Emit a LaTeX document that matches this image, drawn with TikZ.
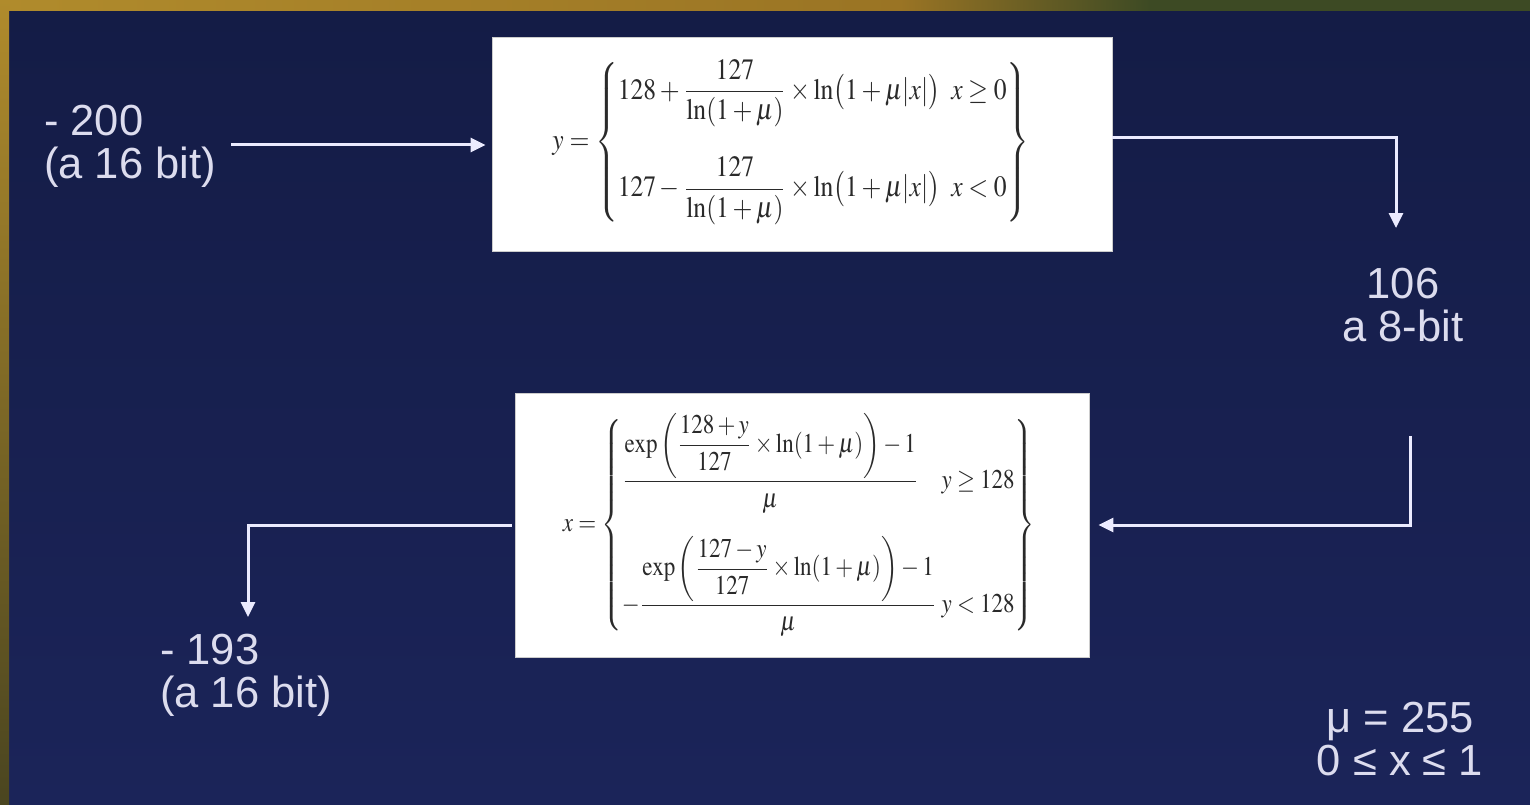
\documentclass[tikz,border=0pt]{standalone}
\usepackage{amsmath}
\usepackage{mathptmx}
\usepackage{graphicx}
\usepackage[no-math]{fontspec}
\newfontfamily\arialf{Liberation Sans}
\usetikzlibrary{arrows.meta}
\definecolor{navytop}{HTML}{141C46}
\definecolor{navybot}{HTML}{1B2459}
\definecolor{goldA}{HTML}{B08B2C}
\definecolor{goldB}{HTML}{9A7424}
\definecolor{greenA}{HTML}{3D4A24}
\definecolor{oliveA}{HTML}{4A4520}
\definecolor{txt}{HTML}{DCDCEE}
\definecolor{formula}{HTML}{2A2A2A}
\tikzset{
  lbl/.style={text=txt, font=\arialf\fontsize{43.5}{43}\selectfont, inner sep=0pt},
  whitebox/.style={fill=white, draw=gray!40, line width=0.8pt, inner sep=0pt},
  arr/.style={draw=white!92!blue, line width=3pt, -{Triangle[length=15pt,width=14pt]}}
}
\begin{document}
\begin{tikzpicture}[x=1pt,y=-1pt]
\useasboundingbox (0,0) rectangle (1530,805);
% background
\shade[top color=navytop, bottom color=navybot] (9,11) rectangle (1530,805);
\shade[left color=goldA, right color=goldB] (0,0) rectangle (900,11);
\shade[left color=goldB, right color=greenA] (900,0) rectangle (1150,11);
\fill[greenA] (1150,0) rectangle (1530,11);
\shade[top color=goldA, bottom color=oliveA] (0,0) rectangle (9,805);

% boxes
\node[whitebox, minimum width=620pt, minimum height=214pt] (box1) at (802,144) {};
\node[inner sep=0pt, text=formula] (f1) at (791,142) {\resizebox*{477pt}{165pt}{$
y=\left\{\begin{array}{@{}l@{\;\;}l@{}}
128+\dfrac{127}{\ln(1+\mu)}\times\ln\bigl(1+\mu|x|\bigr) & x\ge 0\\[16pt]
127-\dfrac{127}{\ln(1+\mu)}\times\ln\bigl(1+\mu|x|\bigr) & x<0
\end{array}\right\}$}};

\node[whitebox, minimum width=574pt, minimum height=264pt] (box2) at (802,525) {};
\node[inner sep=0pt, text=formula] (f2) at (799,525) {\resizebox*{472pt}{224pt}{$
x=\left\{\begin{array}{@{}l@{\;}l@{}}
\dfrac{\exp\left(\dfrac{128+y}{127}\times\ln(1+\mu)\right)-1}{\mu} & y\ge 128\\[14pt]
-\dfrac{\exp\left(\dfrac{127-y}{127}\times\ln(1+\mu)\right)-1}{\mu} & y<128
\end{array}\right\}$}};

% labels
\node[lbl, align=left, anchor=north west] (in1) at (44,105) {- 200\\(a 16 bit)};
\node[lbl, align=center, anchor=north] (out8) at (1403,268) {106\\a 8-bit};
\node[lbl, align=left, anchor=north west] (out16) at (160,634) {- 193\\(a 16 bit)};
\node[lbl, align=center, anchor=north] (mu) at (1400,702) {\char"03BC{} = 255\\0 \char"2264{} x \char"2264{} 1};

% connectors
\coordinate (t1) at (1396,228);
\coordinate (s3) at (1410,436);
\coordinate (t4) at (248,617);
\draw[arr] ([xshift=15pt]in1.east |- 0,145) -- ([xshift=-6pt]box1.west |- 0,145);
\draw[arr] ([yshift=6pt]box1.east) -| (t1);
\draw[arr] (s3) |- ([xshift=9pt]box2.east);
\draw[arr] ([xshift=-3pt]box2.west) -| (t4);
\end{tikzpicture}
\end{document}
